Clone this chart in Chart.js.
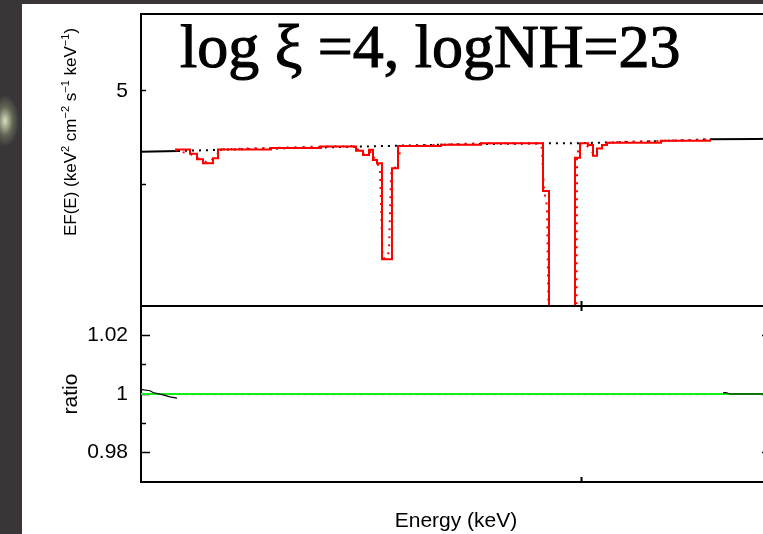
<!DOCTYPE html>
<html>
<head>
<meta charset="utf-8">
<script src="https://cdn.jsdelivr.net/npm/chart.js@4.4.0/dist/chart.umd.min.js"></script>
<style>
  html, body { margin: 0; padding: 0; width: 763px; height: 534px; overflow: hidden; }
  body {
    position: relative;
    background:
      radial-gradient(14px 26px at 5px 121px, rgba(232,244,205,0.9), rgba(190,210,150,0.3) 55%, rgba(58,54,57,0) 100%),
      #3a3638;
  }
  #sheet { position: absolute; left: 22px; top: 4px; width: 741px; height: 530px; background: #fff; }
  canvas { position: absolute; left: 0; }
  #spec { top: -40px; }
  #ratio { top: 246px; }
</style>
</head>
<body>
<div id="sheet"></div>
<canvas id="spec" width="800" height="386"></canvas>
<canvas id="ratio" width="800" height="288"></canvas>
<script>
// energy axis (keV) and tick positions
const eMin = 2.6, eMax = 8.9;
const energyTicks = [7];
const fluxTicks = [4, 5];
const fluxLabels = [5];
const ratioTicks = [0.98, 0.99, 1, 1.01, 1.02];
const ratioLabels = [0.98, 1, 1.02];

// absorbed model, histogram (solid red); each value holds until the next energy
const modelE    = [2.94, 3.09, 3.16, 3.22, 3.32, 3.37, 3.90, 4.40, 4.75, 4.82, 4.88, 4.92, 4.96, 5.01, 5.11, 5.17, 5.60, 6.00, 6.62, 6.68, 6.94, 6.99, 7.07, 7.12, 7.16, 7.21, 7.26, 7.80, 8.29];
const modelFlux = [4.349, 4.306, 4.250, 4.210, 4.260, 4.349, 4.365, 4.380, 4.337, 4.293, 4.348, 4.243, 4.210, 3.352, 4.160, 4.386, 4.400, 4.414, 3.942, 2.0, 4.266, 4.414, 4.396, 4.286, 4.360, 4.396, 4.420, 4.440, 4.456];

// fine-resolution model (dotted red)
const fineE    = [2.94, 3.10, 3.18, 3.27, 3.34, 3.40, 4.40, 4.74, 4.80, 4.86, 4.90, 4.95, 4.99, 5.015, 5.06, 5.08, 5.10, 5.12, 5.16, 5.20, 6.00, 6.60, 6.61, 6.63, 6.66, 6.70, 6.95, 6.96, 6.98, 7.05, 7.14, 7.18, 7.24, 7.30, 8.29];
const fineFlux = [4.344, 4.300, 4.255, 4.215, 4.270, 4.352, 4.380, 4.386, 4.310, 4.290, 4.330, 4.220, 4.170, 3.360, 3.360, 3.420, 4.100, 4.165, 4.170, 4.386, 4.414, 4.414, 4.340, 3.950, 3.800, 2.0, 2.0, 4.266, 4.400, 4.400, 4.290, 4.370, 4.400, 4.425, 4.456];

// unabsorbed continuum (dotted black)
const contE    = [2.97, 3.5, 4.0, 4.5, 5.0, 5.5, 6.0, 6.5, 7.0, 7.5, 8.0, 8.29];
const contFlux = [4.334, 4.350, 4.362, 4.373, 4.385, 4.397, 4.406, 4.412, 4.416, 4.428, 4.444, 4.456];

// data outside the model range (solid black)
const dataE    = [2.60, 2.97, 5.00, 8.29, 8.75, 8.90];
const dataFlux = [4.327, 4.334, null, 4.456, 4.460, 4.462];

// ratio panel
const ratioModelE = [2.6, 8.9];
const ratioModel  = [1, 1];
const ratioRedE   = [2.97, 8.29];
const ratioRed    = [0.9999, 0.9999];
const ratioDataE  = [2.61, 2.69, 2.72, 2.82, 2.89, 2.96, 5.00, 8.42, 8.45, 8.49, 8.90];
const ratioData   = [1.0015, 1.0011, 1.0005, 0.9997, 0.9990, 0.9986, null, 1.0004, 1.0005, 1.0000, 1.0000];

const titleText = 'log \u03be =4, logNH=23';
const yLabelParts = [['EF(E) (keV', false], ['2', true], [' cm', false], ['\u22122', true], [' s', false], ['\u22121', true], [' keV', false], ['\u22121', true], [')', false]];

const pts = (xs, ys) => xs.map((x, i) => ({ x: x, y: ys[i] }));
const fixedTicks = values => scale => { scale.ticks = values.map(v => ({ value: v })); };
const boxWidth = w => scale => { scale.width = w; };
const boxHeight = h => scale => { scale.height = h; };
const frame = { display: true, color: '#000', width: 2 };

Chart.defaults.font.family = '"Liberation Sans", Arial, sans-serif';
Chart.defaults.color = '#000';

const overlayText = {
  id: 'overlayText',
  afterDraw(chart) {
    const { ctx, chartArea } = chart;
    ctx.save();
    ctx.fillStyle = '#000';
    ctx.strokeStyle = '#000';
    ctx.lineWidth = 1.1;
    ctx.font = '62px "Liberation Serif", serif';
    ctx.textAlign = 'left';
    ctx.textBaseline = 'alphabetic';
    ctx.fillText(titleText, chartArea.left + 39, chartArea.top + 52.7);
    ctx.strokeText(titleText, chartArea.left + 39, chartArea.top + 52.7);

    ctx.translate(71.7, chartArea.top + 118);
    ctx.rotate(-Math.PI / 2);
    const mainFont = '17px "Liberation Sans", sans-serif';
    const supFont = '11px "Liberation Sans", sans-serif';
    let total = 0;
    yLabelParts.forEach(([t, sup]) => { ctx.font = sup ? supFont : mainFont; total += ctx.measureText(t).width; });
    let x = -total / 2;
    ctx.textBaseline = 'middle';
    yLabelParts.forEach(([t, sup]) => {
      ctx.font = sup ? supFont : mainFont;
      ctx.fillText(t, x, sup ? -6 : 0);
      x += ctx.measureText(t).width;
    });
    ctx.restore();
  }
};

const line = (data, color, width, extra) => Object.assign({
  data: data, borderColor: color, borderWidth: width, pointRadius: 0, fill: false, tension: 0
}, extra || {});

// top panel: EF(E)
new Chart(document.getElementById('spec'), {
  type: 'line',
  data: {
    datasets: [
      line(pts(modelE, modelFlux), '#ff0000', 2, { stepped: 'before' }),
      line(pts(fineE, fineFlux), '#ff0000', 2, { borderDash: [2, 6] }),
      line(pts(contE, contFlux), '#000', 2, { borderDash: [2, 5] }),
      line(pts(dataE, dataFlux), '#000', 2)
    ]
  },
  options: {
    responsive: false,
    animation: false,
    layout: { padding: 0 },
    plugins: { legend: { display: false }, tooltip: { enabled: false } },
    scales: {
      x: {
        type: 'linear', position: 'bottom', min: eMin, max: eMax, z: 1,
        afterBuildTicks: fixedTicks(energyTicks), afterFit: boxHeight(40),
        ticks: { display: false },
        grid: { drawOnChartArea: false, tickLength: -5, tickColor: '#000', tickWidth: 2 },
        border: frame
      },
      xTop: {
        type: 'linear', position: 'top', min: eMin, max: eMax, z: 1,
        afterBuildTicks: fixedTicks([]), afterFit: boxHeight(54),
        ticks: { display: false },
        grid: { drawOnChartArea: false, tickLength: -5 },
        border: frame
      },
      y: {
        type: 'logarithmic', position: 'left', min: 3, max: 6,
        afterBuildTicks: fixedTicks(fluxTicks), afterFit: boxWidth(141),
        ticks: { autoSkip: false, padding: 18, font: { size: 21 }, callback: v => fluxLabels.includes(v) ? String(v) : '' },
        grid: { drawOnChartArea: false, tickLength: -5, tickColor: '#000', tickWidth: 1.5 },
        border: frame
      },
      yRight: {
        type: 'logarithmic', position: 'right', min: 3, max: 6,
        afterBuildTicks: fixedTicks(fluxTicks), afterFit: boxWidth(29),
        ticks: { display: false },
        grid: { drawOnChartArea: false, tickLength: -5, tickColor: '#000', tickWidth: 1.5 },
        border: frame
      }
    }
  },
  plugins: [overlayText]
});

// bottom panel: ratio
new Chart(document.getElementById('ratio'), {
  type: 'line',
  data: {
    datasets: [
      line(pts(ratioDataE, ratioData), '#000', 1.2),
      line(pts(ratioModelE, ratioModel), '#16ec16', 2),
      line(pts(ratioRedE, ratioRed), 'rgba(255,90,40,0.6)', 2, { borderDash: [3, 4] })
    ]
  },
  options: {
    responsive: false,
    animation: false,
    layout: { padding: 0 },
    plugins: { legend: { display: false }, tooltip: { enabled: false } },
    scales: {
      x: {
        type: 'linear', position: 'bottom', min: eMin, max: eMax, z: 1,
        afterBuildTicks: fixedTicks(energyTicks), afterFit: boxHeight(52),
        ticks: { display: false },
        title: { display: true, text: 'Energy (keV)', font: { size: 21 }, padding: { top: 0, bottom: 0 } },
        grid: { drawOnChartArea: false, tickLength: -5, tickColor: '#000', tickWidth: 2 },
        border: frame
      },
      xTop: {
        type: 'linear', position: 'top', min: eMin, max: eMax, z: 1,
        afterBuildTicks: fixedTicks(energyTicks), afterFit: boxHeight(60),
        ticks: { display: false },
        grid: { drawOnChartArea: false, tickLength: -5, tickColor: '#000', tickWidth: 2 },
        border: frame
      },
      y: {
        type: 'linear', position: 'left', min: 0.97, max: 1.03,
        afterBuildTicks: fixedTicks(ratioTicks), afterFit: boxWidth(141),
        ticks: { autoSkip: false, padding: 22, font: { size: 21 }, callback: v => ratioLabels.includes(v) ? String(v) : '' },
        title: { display: true, text: 'ratio', font: { size: 21 }, padding: { top: 59, bottom: 0 } },
        grid: {
          drawOnChartArea: false, tickLength: -9, tickColor: '#000', tickWidth: 1.5,
          tickBorderDash: c => (c.tick && !ratioLabels.includes(c.tick.value)) ? [0, 4, 20] : []
        },
        border: frame
      },
      yRight: {
        type: 'linear', position: 'right', min: 0.97, max: 1.03,
        afterBuildTicks: fixedTicks(ratioTicks), afterFit: boxWidth(29),
        ticks: { display: false },
        grid: {
          drawOnChartArea: false, tickLength: -9, tickColor: '#000', tickWidth: 1.5,
          tickBorderDash: c => (c.tick && !ratioLabels.includes(c.tick.value)) ? [5, 20] : []
        },
        border: frame
      }
    }
  }
});
</script>
</body>
</html>
